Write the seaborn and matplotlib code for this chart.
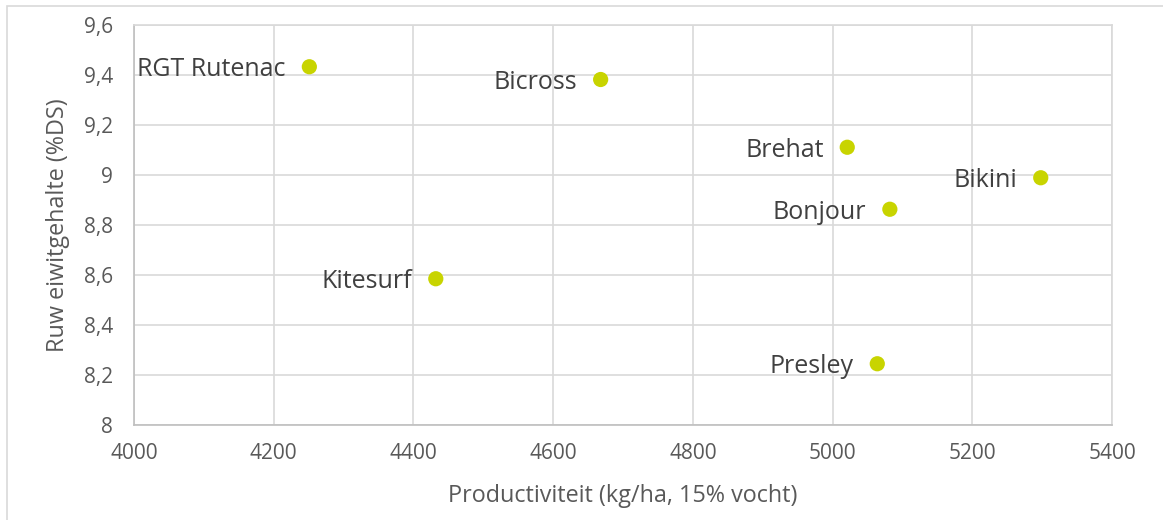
import pandas as pd
import numpy as np
import matplotlib
matplotlib.use('Agg')
import matplotlib.pyplot as plt
import seaborn as sns
from matplotlib.ticker import FuncFormatter
from matplotlib.patches import Rectangle

# data
rassen = ['RGT Rutenac', 'Bicross', 'Brehat', 'Bikini', 'Bonjour', 'Kitesurf', 'Presley']
productiviteit = [4251, 4668, 5021, 5298, 5082, 4432, 5064]
eiwit = [9.433, 9.382, 9.111, 8.989, 8.863, 8.585, 8.245]

x_ticks = [4000, 4200, 4400, 4600, 4800, 5000, 5200, 5400]
y_ticks = [8.0, 8.2, 8.4, 8.6, 8.8, 9.0, 9.2, 9.4, 9.6]

data = pd.DataFrame({'Ras': rassen, 'Productiviteit': productiviteit, 'Eiwit': eiwit})

sns.set_style('white')
plt.rcParams['font.family'] = ['Open Sans', 'DejaVu Sans']

fig = plt.figure(figsize=(11.63, 5.2), dpi=100)
ax = fig.add_axes([134 / 1163, 1 - 425 / 520, 978 / 1163, 400 / 520])

sns.scatterplot(x='Productiviteit', y='Eiwit', data=data, ax=ax,
                color='#C8D400', s=120, edgecolor='none', zorder=3)

# labels left of the points
for i, row in data.iterrows():
    ax.annotate(row['Ras'], (row['Productiviteit'], row['Eiwit']),
                xytext=(-17, -2), textcoords='offset points',
                ha='right', va='center', fontsize=18, color='#404040')

ax.set_xlim(4000, 5400)
ax.set_ylim(8, 9.6)
ax.set_xticks(x_ticks)
ax.set_yticks(y_ticks)

comma = FuncFormatter(lambda v, p: f'{v:g}'.replace('.', ','))
ax.xaxis.set_major_formatter(comma)
ax.yaxis.set_major_formatter(comma)

ax.grid(True, color='#D9D9D9', linewidth=1.2)
ax.set_axisbelow(True)
for side in ['top', 'right']:
    ax.spines[side].set_color('#D9D9D9')
    ax.spines[side].set_linewidth(1.2)
for side in ['left', 'bottom']:
    ax.spines[side].set_color('#BFBFBF')
    ax.spines[side].set_linewidth(1.2)

ax.tick_params(axis='both', length=0, labelsize=15, labelcolor='#595959')
ax.tick_params(axis='y', pad=15)
ax.tick_params(axis='x', pad=13)

ax.set_xlabel('Productiviteit (kg/ha, 15% vocht)', fontsize=16.8, color='#595959', labelpad=14)
ax.set_ylabel('Ruw eiwitgehalte (%DS)', fontsize=16.8, color='#595959', labelpad=10)

# light outer frame of the chart area
fig.patches.append(Rectangle((7 / 1163, -0.01), 1.1, 1 - 6 / 520 + 0.01,
                             transform=fig.transFigure, fill=False,
                             edgecolor='#D9D9D9', linewidth=1.2))

fig.savefig('out.png', dpi=100)
